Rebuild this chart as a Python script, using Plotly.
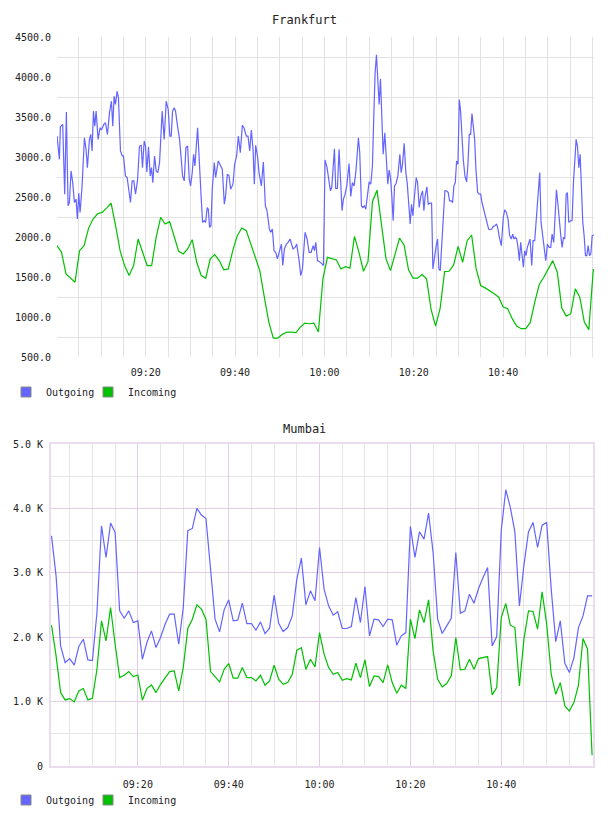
import pandas as pd
import plotly.graph_objects as go

BASE = pd.Timestamp("2000-01-01 09:00:00")

# ---------------- Frankfurt ----------------
# Outgoing: (minutes after 09:00, value)
fra_out_min = [
    0.14, 0.67, 0.89, 1.41, 1.86, 2.23, 2.61, 2.91, 3.28, 3.65, 4.03, 4.40, 4.70, 5.00, 5.30, 5.75,
    6.27, 6.64, 6.94, 7.39, 7.69, 7.99, 8.29, 8.59, 8.89, 9.33, 9.78, 10.08, 10.61, 10.98, 11.43,
    11.88, 12.32, 12.62, 12.92, 13.22, 13.59, 13.89, 14.34, 14.72, 15.01, 15.46, 15.84, 16.58,
    16.96, 17.33, 17.71, 18.15, 18.60, 18.98, 19.27, 19.65, 19.95, 20.25, 20.62, 21.00, 21.29,
    21.59, 21.97, 22.34, 22.71, 23.09, 23.39, 23.68, 24.13, 24.58, 25.03, 25.40, 25.70, 26.00,
    26.38, 26.67, 27.12, 27.57, 27.95, 28.24, 28.62, 28.99, 29.37, 29.74, 30.04, 30.41, 30.71,
    31.01, 31.61, 32.06, 32.43, 32.73, 33.10, 33.40, 33.77, 34.00, 34.30, 34.60, 34.89, 35.34,
    35.64, 36.24, 36.69, 37.14, 37.59, 37.88, 38.26, 38.64, 39.01, 39.53, 39.90, 40.35, 40.73,
    41.17, 41.62, 41.99, 42.52, 42.89, 43.27, 43.64, 44.02, 44.31, 44.61, 45.06, 45.36, 45.88,
    46.33, 46.78, 47.15, 47.68, 47.97, 48.35, 48.72, 49.10, 49.47, 49.99, 50.37, 50.67, 51.04,
    51.49, 51.86, 52.31, 52.68, 52.98, 53.43, 53.80, 54.33, 54.70, 55.08, 55.67, 56.12, 56.57,
    57.02, 57.47, 57.77, 58.07, 58.44, 58.81, 59.19, 59.78,
    60.14, 60.59, 61.04, 61.34, 61.64, 62.01, 62.24, 62.53, 62.91, 63.28, 63.66, 63.95, 64.25,
    64.63, 65.00, 65.52, 65.89, 66.27, 66.64, 67.02, 67.31, 67.61, 67.91, 68.29, 68.59, 68.96,
    69.26, 69.63, 70.01, 70.38, 70.75, 71.05, 71.35, 71.65, 71.95, 72.25, 72.55, 72.85, 73.15,
    73.52, 73.82, 74.19, 74.49, 74.79, 75.09, 75.39, 75.69, 76.06, 76.44, 76.89, 77.18, 77.48,
    77.86, 78.23, 78.53, 78.83, 79.20, 79.50, 79.80, 80.10, 80.55, 80.85, 81.22, 81.59, 81.97,
    82.27, 82.56, 82.94, 83.24, 83.61, 83.99, 84.28, 84.66, 85.03, 85.33, 85.63, 85.93, 86.30,
    86.60, 86.97, 87.35, 87.72, 88.02, 88.39, 88.69, 88.99, 89.29, 89.59, 89.89, 90.19, 90.49,
    90.79, 91.08, 91.46, 91.83, 92.13, 92.43, 92.73, 93.03, 93.33, 93.63, 93.92, 94.30, 94.67,
    94.97, 95.27, 95.57, 95.87, 96.17, 96.47, 96.77, 97.06, 97.44, 97.81, 98.19, 98.56, 98.86,
    99.16, 99.60, 100.05, 100.35, 100.73, 101.10, 101.47, 101.85, 102.15, 102.45, 102.74,
    103.04, 103.34, 103.64, 103.94, 104.24, 104.54, 104.84, 105.13, 105.43, 105.73, 106.03,
    106.41, 106.71, 107.08, 107.45, 107.83, 108.20, 108.50, 108.80, 109.17, 109.55, 109.92,
    110.30, 110.67, 110.97, 111.34, 111.64, 111.94, 112.24, 112.54, 112.91, 113.21, 113.51,
    113.81, 114.11, 114.40, 114.70, 115.08, 115.45, 115.75, 116.05, 116.35, 116.65, 116.95,
    117.25, 117.55, 117.84, 118.14, 118.44, 118.74, 119.04, 119.34, 119.64, 119.94, 120.32,
]
fra_out_val = [
    3262, 2971, 3378, 3407, 2535, 3561, 2390, 2431, 2826, 2680, 2431, 2473, 2224, 2548, 2307, 2639,
    3241, 3096, 2867, 3220, 3283, 3075, 3573, 3386, 3573, 3220, 3366, 3337, 3407, 3428, 3283,
    3552, 3698, 3386, 3760, 3656, 3822, 3739, 3075, 3013, 3013, 2764, 2743, 2431,
    2701, 2701, 2535, 2701, 3137, 3146, 2867, 3200, 3137, 2813, 3129, 2764, 2867,
    2680, 3013, 2826, 2805, 2930, 3262, 3573, 3220, 3698, 3594, 3262, 3262, 3573,
    3615, 3573, 3386, 3220, 2971, 2764, 2701, 3117, 3137, 2722, 2639, 2805, 3034,
    2888, 3366, 2805, 2473, 2182, 2203, 2182, 2369, 2348, 2120, 2141, 2597, 2930,
    2743, 2951, 2888, 2847, 2410, 2514, 2785, 2764, 2597, 2660, 2909, 3013, 3262,
    3054, 3395, 3366, 3262, 3262, 3075, 3337, 3096, 2660, 3146, 2992, 2805, 2639,
    2938, 2390, 2328, 2099, 2058, 2099, 1829, 1809, 1726, 1850, 1912, 1643, 1850,
    1912, 1933, 1975, 1891, 1850, 1870, 1912, 1705, 1518, 1601, 2058, 1975, 1809,
    1809, 1891, 1829, 1933, 1705, 1690, 1680, 1643,
    2963, 2867, 2680, 2577, 2618, 2888, 3104, 2606, 2606, 3096, 2556, 2328, 2473,
    2535, 2639, 2917, 2506, 2680, 2639, 2805, 3013, 3241, 3054, 2390, 2369, 2390,
    2348, 2514, 2689, 2660, 2888, 3511, 4051, 4279, 4009, 3656, 3976, 3552, 3034,
    3303, 3034, 2660, 2838, 2743, 2514, 2203, 2639, 2672, 2764, 3034, 2805, 2909,
    3170, 2805, 2680, 2431, 2162, 2410, 2265, 2473, 2743, 2680, 2369, 2514, 2577,
    2328, 2514, 2626, 2410, 2423, 2423, 1601, 1788, 1892, 1975, 1601, 1580, 1975,
    2307, 2577, 2577, 2556, 2452, 2452, 2431, 2639, 2680, 2951, 2909, 3718, 3573,
    3220, 2971, 2764, 2689, 2909, 3283, 3283, 3544, 3386, 3220, 2847, 2556, 2535,
    2535, 2431, 2369, 2307, 2245, 2162, 2099, 2091, 2099, 2133, 2141, 2162, 2099,
    1996, 1892, 2245, 2340, 2307, 2224, 2017, 1975, 2037, 1975, 1996,
    1975, 1871, 1705, 1933, 1726, 1622, 1829, 1767, 1871, 1925, 1975,
    1643, 1954, 1954, 2224, 2597, 2805, 2182, 2058, 1892, 1705, 1912,
    1871, 1871, 2037, 1933, 2224, 2589, 2431, 2203, 2017, 1871, 1996,
    1975, 2535, 2556, 2182, 2203, 2203, 2680, 2951, 3220, 3137, 2867,
    3034, 2556, 2182, 2017, 1767, 1767, 1892, 1767, 1788, 2017, 2025,
]
# Incoming: sampled about once a minute, 09:00:08 .. 11:00:12
fra_in_val = [
    1892, 1809, 1539, 1485, 1435, 1829, 1892, 2108, 2224, 2290,
    2307, 2361, 2423, 2141, 1829, 1643, 1518, 1643, 1975, 1809,
    1643, 1643, 1996, 2245, 2162, 2191, 2017, 1821, 1788, 1850,
    1966, 1684, 1518, 1485, 1726, 1780, 1705, 1589, 1601, 1829,
    2017, 2112, 2079, 1912, 1726, 1580, 1248, 937, 737, 737,
    783, 812, 812, 804, 874, 924, 916, 924, 812, 1477,
    1746, 1726, 1713, 1601, 1630, 1609, 2008, 1809, 1572, 1692,
    2444, 2585, 2182, 1726, 1580, 1780, 1987, 1900, 1589, 1485,
    1485, 1530, 1477, 1094, 887, 1103, 1568, 1572, 1651, 1883,
    1684, 1954, 2025, 1601, 1394, 1364, 1331, 1290, 1248, 1124,
    1103, 979, 887, 854, 854, 929, 1186, 1406, 1497, 1609,
    1705, 1560, 1111, 1011, 1041, 1352, 1248, 937, 842, 1601,
]
fra_in_time = pd.date_range("2000-01-01 09:00:08", "2000-01-01 11:00:12", periods=len(fra_in_val))
fra_out_time = [BASE + pd.Timedelta(minutes=m) for m in fra_out_min]
fra_y_labels = [500, 1000, 1500, 2000, 2500, 3000, 3500, 4000, 4500]
fra_y_grid = [750, 1250, 1750, 2250, 2750, 3250, 3750, 4250]

# ---------------- Mumbai ----------------
mum_out_val = [
    3575, 2953, 1865, 1606, 1668, 1565, 1855, 1969, 1648, 1637,
    2383, 3730, 3238, 3772, 3627, 2409, 2295, 2409, 2228, 2254,
    1658, 1917, 2098, 1839, 1995, 2202, 2357, 2357, 1891, 2461,
    3653, 3689, 4000, 3896, 3844, 3005, 2280, 2083, 2425, 2580,
    2254, 2264, 2528, 2212, 2212, 2109, 2238, 2057, 2140, 2653,
    2217, 2088, 2150, 2331, 2901, 3228, 2502, 2720, 2565, 3393,
    2746, 2487, 2342, 2394, 2135, 2135, 2166, 2616, 2228, 2787,
    2021, 2280, 2269, 2166, 2280, 2269, 1876, 2021, 2072, 3720,
    3238, 3637, 3523, 3927, 3316, 2280, 2057, 2176, 2295, 3316,
    2373, 2409, 2668, 2528, 2756, 2927, 3083, 1865, 2010, 3653,
    4290, 4015, 3637, 2487, 3119, 3637, 3782, 3393, 3740, 3782,
    2746, 1932, 2254, 1596, 1451, 1684, 2150, 2331, 2642, 2642,
]
mum_in_val = [
    2186, 1710, 1140, 1026, 1047, 995, 1166, 1202, 1026, 1052,
    1502, 2254, 1943, 2461, 1891, 1373, 1409, 1466, 1389, 1414,
    1021, 1202, 1259, 1140, 1269, 1373, 1466, 1477, 1166, 1528,
    2135, 2280, 2502, 2435, 2280, 1466, 1389, 1306, 1502, 1591,
    1363, 1363, 1528, 1373, 1373, 1321, 1409, 1254, 1321, 1565,
    1347, 1269, 1295, 1425, 1798, 1839, 1502, 1658, 1539, 2072,
    1736, 1528, 1425, 1451, 1332, 1357, 1337, 1596, 1373, 1648,
    1233, 1399, 1389, 1295, 1570, 1295, 1129, 1254, 1202, 2280,
    1979, 2425, 2228, 2580, 1787, 1347, 1228, 1280, 1399, 1995,
    1492, 1502, 1658, 1502, 1668, 1684, 1699, 1104, 1218, 2306,
    2523, 2186, 2150, 1243, 1969, 2409, 2399, 2124, 2705, 2202,
    1425, 1114, 1295, 933, 855, 984, 1254, 1979, 1813, 166,
]
mum_time = pd.date_range("2000-01-01 09:01:00", periods=len(mum_out_val), freq="min")
mum_y_labels = [0, 1000, 2000, 3000, 4000, 5000]
mum_y_text = ["0", "1.0 K", "2.0 K", "3.0 K", "4.0 K", "5.0 K"]
mum_y_minor = [500, 1500, 2500, 3500, 4500]

x_label_times = ["09:20", "09:40", "10:00", "10:20", "10:40"]
series_names = ["Outgoing", "Incoming"]

BLUE = "#6464ff"
GREEN = "#00c000"
FONT = "DejaVu Sans Mono"

W, H = 608, 816
x_tickvals = [pd.Timestamp("2000-01-01 " + t) for t in x_label_times]


def px_x(p):
    return p / W


def px_y(p):
    return 1 - p / H


fig = go.Figure()

fig.add_trace(go.Scatter(x=fra_out_time, y=fra_out_val, mode="lines", line=dict(color=BLUE, width=1.2),
                         xaxis="x", yaxis="y", showlegend=False, hoverinfo="skip"))
fig.add_trace(go.Scatter(x=fra_in_time, y=fra_in_val, mode="lines", line=dict(color=GREEN, width=1.2),
                         xaxis="x", yaxis="y", showlegend=False, hoverinfo="skip"))
fig.add_trace(go.Scatter(x=mum_time, y=mum_out_val, mode="lines", line=dict(color=BLUE, width=1.2),
                         xaxis="x2", yaxis="y2", showlegend=False, hoverinfo="skip"))
fig.add_trace(go.Scatter(x=mum_time, y=mum_in_val, mode="lines", line=dict(color=GREEN, width=1.2),
                         xaxis="x2", yaxis="y2", showlegend=False, hoverinfo="skip"))

# legend entries (square swatches), one small legend per entry so each can be placed
legend_font = dict(family=FONT, size=10, color="#222222")
legend_layout = {}
legend_specs = [
    ("legend", "x", "y", 0, 392),
    ("legend3", "x", "y", 1, 392),
    ("legend2", "x2", "y2", 0, 800),
    ("legend4", "x2", "y2", 1, 800),
]
swatch_left = [6, 88]
for lg, xa, ya, idx, ypix in legend_specs:
    col = (BLUE, GREEN)[idx]
    fig.add_trace(go.Scatter(x=[None], y=[None], mode="markers", name=series_names[idx],
                             marker=dict(symbol="square", size=10, color=col,
                                         line=dict(color="#888888", width=1)),
                             xaxis=xa, yaxis=ya, legend=lg, showlegend=True))
    legend_layout[lg] = dict(orientation="h", x=px_x(swatch_left[idx]), xanchor="left",
                             y=px_y(ypix), yanchor="middle", font=legend_font, itemwidth=30,
                             bgcolor="rgba(0,0,0,0)", tracegroupgap=0)

tickfont = dict(family=FONT, size=10, color="#222222")
fra_grid = "#e2e2e2"

fig.update_layout(
    width=W, height=H, margin=dict(l=0, r=0, t=0, b=0, autoexpand=False),
    paper_bgcolor="white", plot_bgcolor="white",
    font=dict(family=FONT, size=10, color="#222222"),
    xaxis=dict(
        domain=[px_x(57), px_x(594)], anchor="y", type="date", automargin=False,
        range=[BASE + pd.Timedelta(seconds=8), BASE + pd.Timedelta(minutes=120, seconds=21)],
        tickmode="array", tickvals=x_tickvals, ticktext=x_label_times,
        showgrid=True, gridcolor=fra_grid, gridwidth=1, zeroline=False, showline=False,
        ticks="", tickfont=tickfont, ticklabelstandoff=8,
        minor=dict(dtick=5 * 60 * 1000, tick0=BASE, showgrid=True, gridcolor=fra_grid, gridwidth=1),
    ),
    yaxis=dict(
        domain=[px_y(357), px_y(37)], anchor="x", range=[500, 4500], automargin=False,
        tickvals=fra_y_labels, tickformat=".1f", showgrid=False, zeroline=False, showline=False,
        ticks="", tickfont=tickfont, ticklabelstandoff=5,
        minor=dict(tickvals=fra_y_grid, showgrid=True, gridcolor=fra_grid, gridwidth=1),
    ),
    xaxis2=dict(
        domain=[px_x(51), px_x(593)], anchor="y2", type="date", automargin=False,
        range=[BASE + pd.Timedelta(seconds=53), BASE + pd.Timedelta(minutes=120, seconds=12)],
        tickmode="array", tickvals=x_tickvals, ticktext=x_label_times,
        showgrid=True, gridcolor="#e4cce4", gridwidth=1, zeroline=False,
        showline=True, mirror=True, linecolor="#eadcee", linewidth=2,
        ticks="", tickfont=tickfont, ticklabelstandoff=8,
        minor=dict(dtick=5 * 60 * 1000, tick0=BASE, showgrid=True, gridcolor="#e6e6e6", gridwidth=1),
    ),
    yaxis2=dict(
        domain=[px_y(766), px_y(444)], anchor="x2", range=[0, 5000], automargin=False,
        tickvals=mum_y_labels, ticktext=mum_y_text,
        showgrid=True, gridcolor="#e4cce4", gridwidth=1, zeroline=False,
        showline=True, mirror=True, linecolor="#eadcee", linewidth=2,
        ticks="", tickfont=tickfont, ticklabelstandoff=4,
        minor=dict(tickvals=mum_y_minor, showgrid=True, gridcolor="#e6e6e6", gridwidth=1),
    ),
    annotations=[
        dict(text="Frankfurt", x=px_x(304), y=px_y(20), xref="paper", yref="paper",
             xanchor="center", yanchor="middle",
             showarrow=False, font=dict(family=FONT, size=12, color="#222222")),
        dict(text="Mumbai", x=px_x(304), y=px_y(429), xref="paper", yref="paper",
             xanchor="center", yanchor="middle",
             showarrow=False, font=dict(family=FONT, size=12, color="#222222")),
    ],
    **legend_layout,
)

fig.write_html("out.html")
